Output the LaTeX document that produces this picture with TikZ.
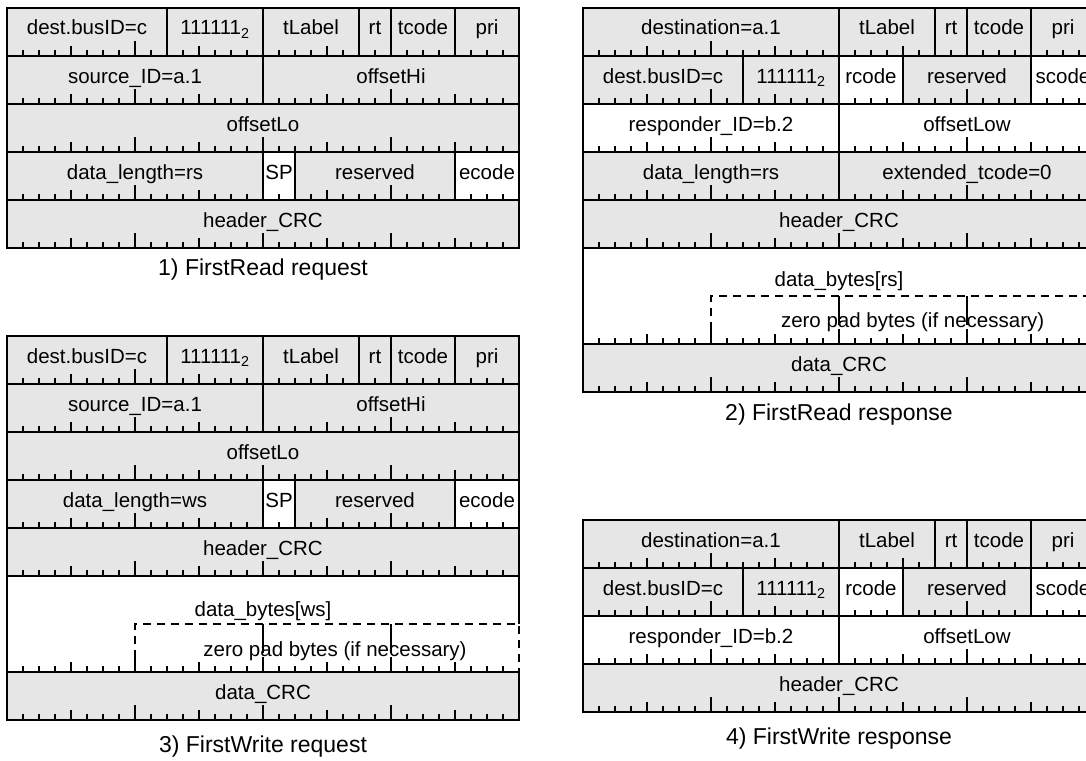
\documentclass[tikz,border=0pt]{standalone}
\usepackage{fontspec}
\setmainfont{Liberation Sans}
\definecolor{fieldgray}{RGB}{230,230,230}

\begin{document}
\begin{tikzpicture}[x=1pt,y=-1pt]
        \tikzset{fld/.style={draw=black, line width=1.8pt},
                 lbl/.style={anchor=base, inner sep=0pt, font=\fontsize{20.5}{24}\selectfont},
                 capt/.style={anchor=base, inner sep=0pt, font=\fontsize{23}{27}\selectfont},
                 bittick/.style={line width=1.2pt},
                 padline/.style={line width=1.5pt, dash pattern=on 8pt off 6pt},
                 bitticks/.pic={\foreach \b in {1,...,31}{%
                     \pgfmathsetmacro\tlen{mod(\b,8)==0 ? 0.3125 : (mod(\b,4)==0 ? 0.2083 : 0.125)}
                     \draw[bittick] (\b,0) -- (\b,-\tlen);}}}
        \clip (0,0) rectangle (1086,760);
        \fill[white] (0,0) rectangle (1086,760);
        % 1) read request
        \begin{scope}[shift={(7,8)}, x=16pt, y=-48pt]
            \foreach \b/\r/\w/\c/\t in {0/0/10/fieldgray/dest.busID=c, 10/0/6/fieldgray/111111\textsubscript{2},
                16/0/6/fieldgray/tLabel, 22/0/2/fieldgray/rt, 24/0/4/fieldgray/tcode, 28/0/4/fieldgray/pri,
                0/1/16/fieldgray/source\_ID=a.1, 16/1/16/fieldgray/offsetHi, 0/2/32/fieldgray/offsetLo,
                0/3/16/fieldgray/data\_length=rs, 16/3/2/white/SP, 18/3/10/fieldgray/reserved, 28/3/4/white/ecode,
                0/4/32/fieldgray/header\_CRC}{
                \draw[fld, fill=\c] (\b,\r) rectangle ++(\w,1);
                \node[lbl] (rreq-\b-\r) at (\b+\w/2,\r+0.5625) {\t};}
            \foreach \r in {1,...,5} \pic at (0,\r) {bitticks};
        \end{scope}
        % 2) read response
        \begin{scope}[shift={(583,8)}, x=16pt, y=-48pt]
            \foreach \b/\r/\w/\c/\t in {0/0/16/fieldgray/destination=a.1,
                16/0/6/fieldgray/tLabel, 22/0/2/fieldgray/rt, 24/0/4/fieldgray/tcode, 28/0/4/fieldgray/pri,
                0/1/10/fieldgray/dest.busID=c, 10/1/6/fieldgray/111111\textsubscript{2}, 16/1/4/white/rcode,
                20/1/8/fieldgray/reserved, 28/1/4/white/scode,
                0/2/16/white/responder\_ID=b.2, 16/2/16/white/offsetLow,
                0/3/16/fieldgray/data\_length=rs, 16/3/16/fieldgray/extended\_tcode=0,
                0/4/32/fieldgray/header\_CRC, 0/7/32/fieldgray/data\_CRC}{
                \draw[fld, fill=\c] (\b,\r) rectangle ++(\w,1);
                \node[lbl] (rresp-\b-\r) at (\b+\w/2,\r+0.5625) {\t};}
            \fill[white] (0,5) rectangle (32,7);
            \draw[fld] (32,6) -- (32,5) -- (0,5) -- (0,7) -- (32,7);
            \draw[padline] (8,7) -- (8,6) -- (32,6) -- (32,7);
            \draw[bittick] (16,6) -- ++(0,0.6) (24,6) -- ++(0,0.6);
            \node[lbl] (rresp-bytes) at (16,5.8) {data\_bytes[rs]};
            \node[lbl] (rresp-zero) at (20.6,6.65) {zero pad bytes (if necessary)};
            \foreach \r in {1,...,5,7,8} \pic at (0,\r) {bitticks};
        \end{scope}
        % 3) write request
        \begin{scope}[shift={(7,336)}, x=16pt, y=-48pt]
            \foreach \b/\r/\w/\c/\t in {0/0/10/fieldgray/dest.busID=c, 10/0/6/fieldgray/111111\textsubscript{2},
                16/0/6/fieldgray/tLabel, 22/0/2/fieldgray/rt, 24/0/4/fieldgray/tcode, 28/0/4/fieldgray/pri,
                0/1/16/fieldgray/source\_ID=a.1, 16/1/16/fieldgray/offsetHi, 0/2/32/fieldgray/offsetLo,
                0/3/16/fieldgray/data\_length=ws, 16/3/2/white/SP, 18/3/10/fieldgray/reserved, 28/3/4/white/ecode,
                0/4/32/fieldgray/header\_CRC, 0/7/32/fieldgray/data\_CRC}{
                \draw[fld, fill=\c] (\b,\r) rectangle ++(\w,1);
                \node[lbl] (wreq-\b-\r) at (\b+\w/2,\r+0.5625) {\t};}
            \fill[white] (0,5) rectangle (32,7);
            \draw[fld] (32,6) -- (32,5) -- (0,5) -- (0,7) -- (32,7);
            \draw[padline] (8,7) -- (8,6) -- (32,6) -- (32,7);
            \draw[bittick] (16,6) -- ++(0,0.6) (24,6) -- ++(0,0.6);
            \node[lbl] (wreq-bytes) at (16,5.85) {data\_bytes[ws]};
            \node[lbl] (wreq-zero) at (20.5,6.68) {zero pad bytes (if necessary)};
            \foreach \r in {1,...,5,7,8} \pic at (0,\r) {bitticks};
        \end{scope}
        % 4) write response
        \begin{scope}[shift={(583,520)}, x=16pt, y=-48pt]
            \foreach \b/\r/\w/\c/\t in {0/0/16/fieldgray/destination=a.1,
                16/0/6/fieldgray/tLabel, 22/0/2/fieldgray/rt, 24/0/4/fieldgray/tcode, 28/0/4/fieldgray/pri,
                0/1/10/fieldgray/dest.busID=c, 10/1/6/fieldgray/111111\textsubscript{2}, 16/1/4/white/rcode,
                20/1/8/fieldgray/reserved, 28/1/4/white/scode,
                0/2/16/white/responder\_ID=b.2, 16/2/16/white/offsetLow,
                0/3/32/fieldgray/header\_CRC}{
                \draw[fld, fill=\c] (\b,\r) rectangle ++(\w,1);
                \node[lbl] (wresp-\b-\r) at (\b+\w/2,\r+0.5625) {\t};}
            \foreach \r in {1,...,4} \pic at (0,\r) {bitticks};
        \end{scope}
        \node[capt] (rreqcap) at (263,275) {1) FirstRead request};
        \node[capt] (rrespcap) at (839,420) {2) FirstRead response};
        \node[capt] (wreqcap) at (263,752) {3) FirstWrite request};
        \node[capt] (wrespcap) at (839,744) {4) FirstWrite response};
    \end{tikzpicture}
\end{document}
